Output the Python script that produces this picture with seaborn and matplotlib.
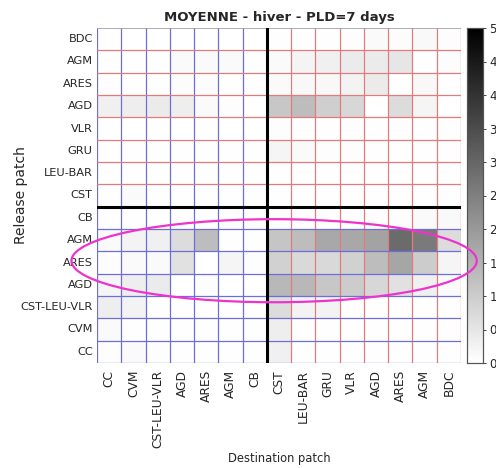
import numpy as np
import pandas as pd
import matplotlib
matplotlib.use("Agg")
import matplotlib.pyplot as plt
from matplotlib.patches import Ellipse
import seaborn as sns

# Release patches (rows, top to bottom) and destination patches (columns)
release = ["BDC", "AGM", "ARES", "AGD", "VLR", "GRU", "LEU-BAR", "CST",
           "CB", "AGM", "ARES", "AGD", "CST-LEU-VLR", "CVM", "CC"]
destination = ["CC", "CVM", "CST-LEU-VLR", "AGD", "ARES", "AGM", "CB",
               "CST", "LEU-BAR", "GRU", "VLR", "AGD", "ARES", "AGM", "BDC"]

# Mean connectivity, winter, PLD = 7 days
row_bdc   = [0.00, 0.00, 0.00, 0.00, 0.00, 0.00, 0.00, 0.02, 0.02, 0.03, 0.05, 0.10, 0.06, 0.12, 0.05]
row_agm   = [0.02, 0.02, 0.02, 0.10, 0.10, 0.10, 0.02, 0.10, 0.22, 0.30, 0.40, 0.40, 0.50, 0.00, 0.06]
row_ares  = [0.02, 0.02, 0.02, 0.06, 0.06, 0.02, 0.02, 0.10, 0.15, 0.15, 0.25, 0.40, 0.00, 0.15, 0.00]
row_agd   = [0.30, 0.35, 0.40, 0.35, 0.10, 0.05, 0.00, 1.10, 1.30, 0.95, 0.80, 0.00, 0.70, 0.20, 0.00]
row_vlr   = [0.00, 0.00, 0.00, 0.00, 0.00, 0.00, 0.00, 0.05, 0.03, 0.02, 0.02, 0.02, 0.02, 0.02, 0.02]
row_gru   = [0.02, 0.02, 0.02, 0.02, 0.02, 0.02, 0.02, 0.20, 0.10, 0.05, 0.05, 0.03, 0.03, 0.03, 0.02]
row_leu   = [0.02, 0.02, 0.02, 0.02, 0.02, 0.02, 0.02, 0.03, 0.02, 0.02, 0.02, 0.02, 0.02, 0.02, 0.02]
row_cst   = [0.02, 0.10, 0.02, 0.02, 0.02, 0.02, 0.02, 0.03, 0.02, 0.02, 0.02, 0.02, 0.02, 0.02, 0.02]
row_cb    = [0.02, 0.02, 0.02, 0.02, 0.02, 0.02, 0.02, 0.05, 0.03, 0.03, 0.03, 0.05, 0.05, 0.10, 0.12]
row_agm2  = [0.10, 0.25, 0.30, 0.70, 1.30, 0.02, 0.02, 1.15, 1.30, 1.70, 1.70, 1.80, 2.90, 2.60, 0.70]
row_ares2 = [0.05, 0.10, 0.10, 0.60, 0.00, 0.20, 0.05, 0.90, 0.75, 0.75, 0.90, 1.30, 1.75, 1.00, 0.20]
row_agd2  = [0.20, 0.35, 0.40, 0.00, 0.05, 0.00, 0.00, 1.40, 1.40, 1.10, 1.00, 0.80, 0.60, 0.30, 0.10]
row_clv   = [0.35, 0.25, 0.02, 0.02, 0.02, 0.02, 0.02, 0.70, 0.25, 0.25, 0.02, 0.02, 0.02, 0.02, 0.02]
row_cvm   = [0.10, 0.02, 0.02, 0.02, 0.02, 0.02, 0.02, 0.35, 0.02, 0.02, 0.02, 0.02, 0.02, 0.02, 0.02]
row_cc    = [0.05, 0.10, 0.05, 0.02, 0.02, 0.02, 0.02, 0.30, 0.02, 0.02, 0.02, 0.02, 0.02, 0.02, 0.02]

cbar_ticks = [0, 0.5, 1, 1.5, 2, 2.5, 3, 3.5, 4, 4.5, 5]

matrix = np.array([row_bdc, row_agm, row_ares, row_agd, row_vlr, row_gru, row_leu, row_cst,
                   row_cb, row_agm2, row_ares2, row_agd2, row_clv, row_cvm, row_cc])
df = pd.DataFrame(matrix, index=release, columns=destination)

sns.set_style("white")
plt.rcParams["font.family"] = ["DejaVu Sans"]

W, H = 496, 468
fig = plt.figure(figsize=(W / 100, H / 100), dpi=100)
ax = fig.add_axes([97 / W, 1 - 363 / H, 364 / W, 335 / H])
cax = fig.add_axes([467 / W, 1 - 363 / H, 16 / W, 335 / H])

sns.heatmap(df, ax=ax, cbar_ax=cax, cmap="gray_r", vmin=0, vmax=5,
            cbar_kws={"ticks": cbar_ticks})

n = len(destination)
split_col = destination.index("CST")
split_row = release.index("CB")

# cell borders: blue on the left / lower block, red on the right / upper block
blue = "#6e6ed8"
red = "#e07c7c"
for x in range(0, n + 1):
    if x == split_col:
        continue
    ax.axvline(x, color=blue if x < split_col else red, lw=0.9, zorder=3)
for y in range(1, n + 1):
    if y == split_row:
        continue
    ax.axhline(y, color=red if y < split_row else blue, lw=0.9, zorder=3)
ax.axhline(0, color="#a0a0a0", lw=1.2, zorder=3)
ax.axvline(split_col, color="black", lw=2.2, zorder=4)
ax.axhline(split_row, color="black", lw=2.2, zorder=4)
for s in ax.spines.values():
    s.set_visible(False)

ax.tick_params(length=0)
ax.tick_params(axis="x", pad=5, rotation=90, labelsize=8.8)
ax.tick_params(axis="y", pad=3, rotation=0, labelsize=8.2)
ax.set_xlabel("Destination patch", fontsize=8.3)
ax.xaxis.set_label_coords(0.5, -0.265)
ax.set_ylabel("Release patch", fontsize=10)
ax.yaxis.set_label_coords(-0.19, 0.5)
ax.set_title("MOYENNE - hiver - PLD=7 days", fontsize=9.5, fontweight="bold", pad=5)

cax.tick_params(labelsize=8.5, length=2.5, width=0.6, pad=2)
cax.set_yticklabels([f"{t:g}" for t in cbar_ticks])
for s in cax.spines.values():
    s.set_visible(True)
    s.set_color("#555555")
    s.set_linewidth(0.8)

# highlighted group of release patches
ell = Ellipse((7.3, 10.42), 16.7, 3.72, transform=ax.transData,
              fill=False, edgecolor="#ee33cc", lw=1.6, clip_on=False, zorder=10)
fig.patches.append(ell)

fig.savefig("out.png", dpi=100)
